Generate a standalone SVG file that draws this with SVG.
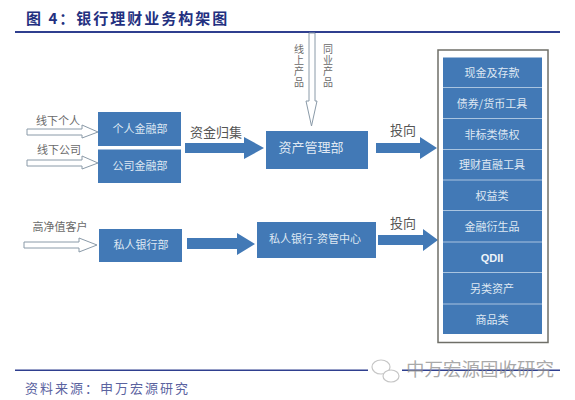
<svg xmlns="http://www.w3.org/2000/svg" width="575" height="400" viewBox="0 0 575 400">
<style>
text{font-family:"Noto Sans CJK SC","Liberation Sans",sans-serif;text-anchor:middle}
.b{fill:#4279b6}
.w{fill:#dfe8f3;font-size:11px}
.l{fill:#6a6a6a;font-size:11px}
.v{fill:#6a6a6a;font-size:10px;writing-mode:vertical-rl;letter-spacing:1px}
.d{fill:#555;font-size:13px}
.h{fill:#fff;stroke:#8a9aa8;stroke-width:1}
.r{fill:#2f3f8f}
.sep{stroke:#a9c4e0;stroke-width:1.2}
</style>
<rect width="575" height="400" fill="#fff"/>
<g id="header">
<text x="26" y="24" style="text-anchor:start;font-size:15px;font-weight:700;letter-spacing:2px;fill:#23307f">图 4：银行理财业务构架图</text>
<rect class="r" x="15" y="31" width="545" height="2"/>
</g>
<g id="connectors">
<path class="h" d="M27 129H82V125L98 132L82 138V135H27Z"/>
<path class="h" d="M27 160H82V156L98 163L82 169V166H27Z"/>
<path class="h" d="M24 242H79V238L97 245L79 252V248H24Z"/>
<path class="h" d="M309 33H315V101H317L311.500 126L306 101H309Z"/>
<path class="b" d="M185 143H244V137L264 148L244 159V153H185Z"/>
<path class="b" d="M376 143H420V137L437 148L420 159V153H376Z"/>
<path class="b" d="M187 238H237V233L255 244L237 255V249H187Z"/>
<path class="b" d="M378 235H423V229L438 240L423 251V245H378Z"/>
</g>
<g id="label-xianxia-geren"><text class="l" x="58" y="125">线下个人</text></g>
<g id="label-xianxia-gongsi"><text class="l" x="59" y="154">线下公司</text></g>
<g id="label-gaojingzhi"><text class="l" x="60" y="231">高净值客户</text></g>
<g id="label-zijinguiji"><text class="d" x="216" y="137">资金归集</text></g>
<g id="label-touxiang-1"><text class="d" x="403" y="135">投向</text></g>
<g id="label-touxiang-2"><text class="d" x="403" y="228">投向</text></g>
<g id="label-xianshang"><text class="v" x="299" y="66">线上产品</text></g>
<g id="label-tongye"><text class="v" x="328" y="66">同业产品</text></g>
<g id="node-geren"><rect class="b" x="98" y="112" width="83" height="34"/><text class="w" x="140" y="133">个人金融部</text></g>
<g id="node-gongsi"><rect class="b" x="98" y="149.500" width="83" height="33.500"/><text class="w" x="140" y="170">公司金融部</text></g>
<g id="node-zichan"><rect class="b" x="266" y="131" width="102" height="38"/><text class="w" style="font-size:13px" x="311" y="152">资产管理部</text></g>
<g id="node-siren"><rect class="b" x="99" y="229" width="83" height="33"/><text class="w" x="141" y="249">私人银行部</text></g>
<g id="node-zhongxin"><rect class="b" x="257" y="222" width="119" height="36"/><text class="w" x="315" y="243">私人银行-资管中心</text></g>
<g id="node-assets">
<rect x="438" y="50" width="110" height="292.500" fill="#fff" stroke="#6f6f68" stroke-width="1.500"/>
<rect class="b" x="443" y="57.500" width="99" height="276.500"/>
<path class="sep" d="M443 87.500H542M443 118.500H542M443 149.500H542M443 180H542M443 210.500H542M443 242H542M443 272.500H542M443 304H542"/>
<text class="w" x="492" y="77">现金及存款</text>
<text class="w" x="492" y="108">债券/货币工具</text>
<text class="w" x="492" y="139">非标类债权</text>
<text class="w" x="492" y="169">理财直融工具</text>
<text class="w" x="492" y="200">权益类</text>
<text class="w" x="492" y="231">金融衍生品</text>
<text class="w" x="492" y="262" style="font-family:'Liberation Sans',sans-serif;font-weight:700;fill:#eef3f9">QDII</text>
<text class="w" x="492" y="293">另类资产</text>
<text class="w" x="492" y="324">商品类</text>
</g>
<g id="footer">
<rect class="r" x="15" y="369.500" width="545" height="1.500"/>
<text x="25" y="393" style="text-anchor:start;font-size:13px;letter-spacing:2px;fill:#5b639f">资料来源：申万宏源研究</text>
</g>
<g id="watermark">
<rect x="368" y="360" width="34" height="24" fill="#fff"/>
<ellipse cx="381" cy="367" rx="9" ry="7" fill="none" stroke="#c6c6c6" stroke-width="1.200"/>
<ellipse cx="391" cy="376" rx="8" ry="6" fill="#fff" stroke="#c6c6c6" stroke-width="1.200"/>
<text x="480" y="376" style="font-size:18.500px;fill:#8d8d8d;fill-opacity:.75">中万宏源固收研究</text>
</g>
</svg>
